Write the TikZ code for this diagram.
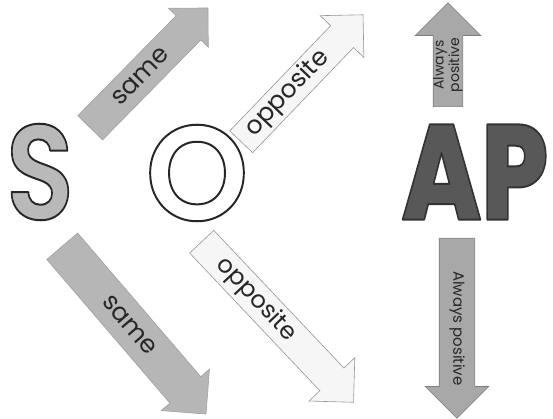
\documentclass[tikz,border=0pt]{standalone}
\usepackage{fontspec}
\setmainfont{Poppins}
\newfontfamily\letterfont{Poppins SemiBold}
\newfontfamily\apfont{Poppins ExtraBold}
\usetikzlibrary{shapes.arrows, calc}

\definecolor{samefill}{RGB}{182,182,182}
\definecolor{sameline}{RGB}{160,160,160}
\definecolor{oppfill}{RGB}{246,246,246}
\definecolor{oppline}{RGB}{150,150,150}
\definecolor{posfill}{RGB}{168,168,168}
\definecolor{posline}{RGB}{125,125,125}
\definecolor{sfill}{RGB}{185,185,185}
\definecolor{apfill}{RGB}{88,88,88}

% glyphs filled and stroked (text render mode 2)
\newcommand{\strokedtext}[3]{%
  \special{pdf:literal direct 1 j #1 w #2 RG 2 Tr}#3\special{pdf:literal direct 0 Tr}}

\begin{document}
\begin{tikzpicture}[x=1pt, y=-1pt,
    bigarrow/.style={single arrow, single arrow tip angle=90, anchor=tail,
      line width=0.6pt, inner xsep=0pt},
    samearrow/.style={bigarrow, fill=samefill, draw=sameline},
    opparrow/.style={bigarrow, fill=oppfill, draw=oppline},
    posarrow/.style={bigarrow, fill=posfill, draw=posline},
    lbl/.style={inner sep=0pt, text=black!85, font=\fontsize{25}{25}\selectfont},
    poslbl/.style={inner sep=0pt, text=black!85, align=center},
    letter/.style={inner sep=0pt, font=\fontsize{135}{135}\selectfont\letterfont}
  ]
  \useasboundingbox (0,0) rectangle (553,419);

  % the letters
  \node[letter, text=sfill, xscale=0.83] (s) at (40,172) {\strokedtext{2}{0.15 0.15 0.15}{S}};
  \node[letter, text=white, xscale=0.97] (o) at (197,173) {\strokedtext{2}{0.15 0.15 0.15}{O}};
  \node[letter, text=apfill, xscale=0.78, font=\fontsize{135}{135}\selectfont\apfont] (ap) at (475,172)
    {\strokedtext{2}{0.2 0.2 0.2}{AP}};

  % arrows going up
  \node[samearrow, rotate=45.5, minimum height=168pt, inner ysep=17pt,
    single arrow head extend=10.5pt] (sameup) at (90,128) {};
  \node[opparrow, rotate=46.2, minimum height=176pt, inner ysep=15.5pt,
    single arrow head extend=14.5pt] (oppup) at (241,142) {};
  \node[posarrow, rotate=90, minimum height=104pt, inner ysep=14.5pt,
    single arrow head extend=18pt] (posup) at (448,107) {};

  % arrows going down
  \node[samearrow, rotate=-49.4, minimum height=221pt, inner ysep=20pt,
    single arrow head extend=11.5pt] (samedown) at (62,246) {};
  \node[opparrow, rotate=-46.6, minimum height=221pt, inner ysep=16.25pt,
    single arrow head extend=15pt] (oppdown) at (201.5,241.5) {};
  \node[posarrow, rotate=-90, minimum height=180pt, inner ysep=17.5pt,
    single arrow head extend=14pt] (posdown) at (457,238) {};

  % labels on the arrows
  \path (sameup.tail) -- node[lbl, pos=0.43, sloped] {same} (sameup.tip);
  \path (oppup.tail) -- node[lbl, pos=0.38, sloped] {opposite} (oppup.tip);
  \path (samedown.tail) -- node[lbl, pos=0.47, sloped] {same} (samedown.tip);
  \path (oppdown.tail) -- node[lbl, pos=0.36, sloped, font=\fontsize{24}{24}\selectfont] {opposite} (oppdown.tip);
  \node[poslbl, rotate=90, font=\fontsize{14}{12.5}\selectfont] at ($(posup.tail)!0.4!(posup.tip)$) {Always\\positive};
  \node[poslbl, rotate=-90, font=\fontsize{15}{15}\selectfont] at ($(posdown.tail)!0.5!(posdown.tip)$) {Always positive};
\end{tikzpicture}
\end{document}
